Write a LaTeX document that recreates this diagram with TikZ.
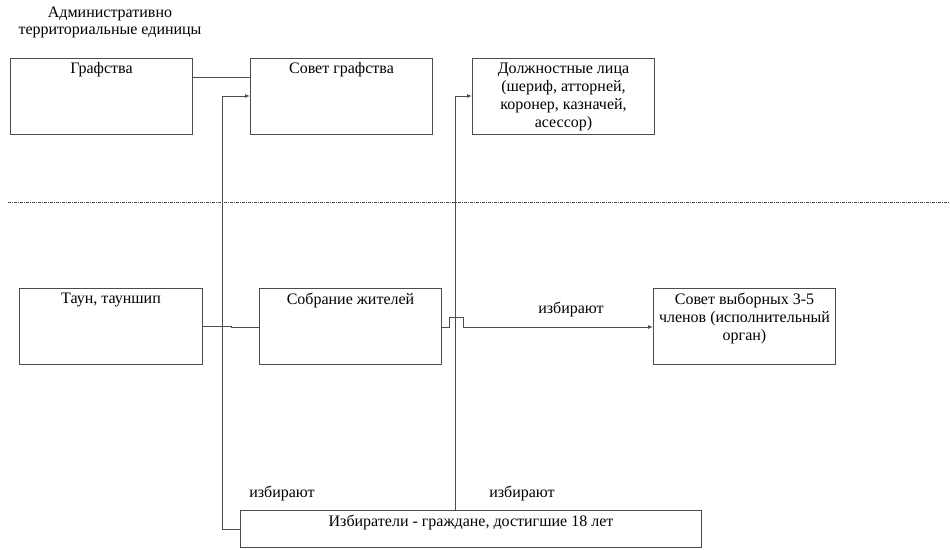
\documentclass[tikz,border=0pt]{standalone}
\usepackage{fontspec}
\setmainfont{Liberation Serif}
\usetikzlibrary{arrows.meta}
\definecolor{linegray}{RGB}{75,75,75}
\begin{document}
\begin{tikzpicture}[x=1pt,y=-1pt,
 box/.style={draw=linegray, line width=1pt, minimum width=182pt, minimum height=76pt, anchor=north west, inner sep=0pt},
 txt/.style={anchor=north, align=center, inner sep=0pt, font=\fontsize{16}{18.2}\selectfont},
 lbl/.style={anchor=base, inner sep=0pt, font=\fontsize{16}{18}\selectfont},
 conn/.style={draw=linegray, line width=1pt},
 arr/.style={conn, -{Latex[length=5pt,width=4pt]}}]
\useasboundingbox (0,0) rectangle (950,549);

% title
\node[txt, font=\fontsize{16}{17}\selectfont] (title) at (110,7) {Административно\\территориальные единицы};

% boxes
\node[box] (graf) at (10,58) {};
\node[box] (sovet) at (250,58) {};
\node[box] (dolzh) at (472,58) {};
\node[box, minimum width=183pt] (taun) at (19,288) {};
\node[box] (sobr) at (259,288) {};
\node[box] (svyb) at (653,288) {};
\node[box, minimum width=461pt, minimum height=37pt] (izb) at (240,510) {};

% box texts
\node[txt] (tgraf) at ([yshift=-4.5pt]graf.north) {Графства};
\node[txt] (tsovet) at ([yshift=-4.5pt]sovet.north) {Совет графства};
\node[txt] (tdolzh) at ([yshift=-4.5pt]dolzh.north) {Должностные лица\\(шериф, атторней,\\коронер, казначей,\\асессор)};
\node[txt] (ttaun) at ([yshift=-4.5pt]taun.north) {Таун, тауншип};
\node[txt] (tsobr) at ([yshift=-4.5pt]sobr.north) {Собрание жителей};
\node[txt] (tsvyb) at ([yshift=-4.5pt]svyb.north) {Совет выборных 3-5\\членов (исполнительный\\орган)};
\node[txt] (tizb) at ([yshift=-5pt]izb.north) {Избиратели - граждане, достигшие 18 лет};

% dashed separator
\coordinate (dl) at (8,202);
\coordinate (dr) at (950,202);
\draw[draw=linegray, line width=0.8pt, dash pattern=on 3pt off 1pt on 1pt off 1pt] (dl) -- (dr);

% connectors
\draw[conn] (graf.east |- 0,77) -- (sovet.west |- 0,77);
\draw[conn] (taun.east |- 0,326) -- (231,326) -- (231,327) -- (sobr.west |- 0,327);

\coordinate (cA) at (222,529);
\draw[arr] (izb.west |- cA) -- (cA) -- (222,96) -- (sovet.west |- 0,96);

\coordinate (cB) at (455,96);
\draw[arr] (izb.north -| cB) -- (cB) -- (dolzh.west |- cB);

\draw[arr] (sobr.east |- 0,327) -- (449,327) -- (449,317) -- (463,317) -- (463,327) -- (svyb.west |- 0,327);

% labels
\node[lbl] (l1) at (571,313) {избирают};
\node[lbl] (l2) at (282,497) {избирают};
\node[lbl] (l3) at (522,497) {избирают};
\end{tikzpicture}
\end{document}
